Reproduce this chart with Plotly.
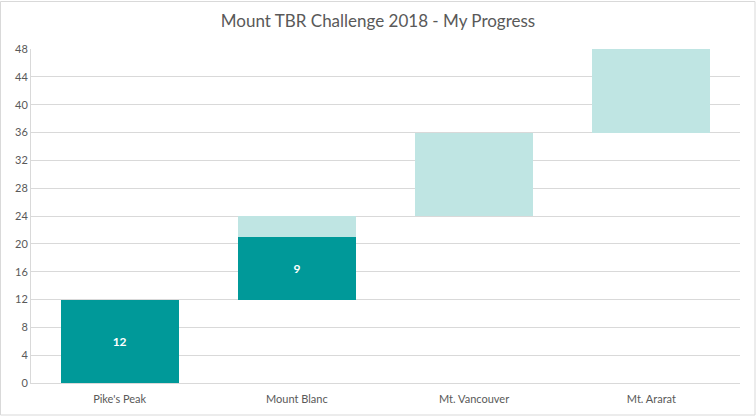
import plotly.graph_objects as go

# mountains and their page counts
mountains = ["Pike's Peak", "Mount Blanc", "Mt. Vancouver", "Mt. Ararat"]
base = [0, 12, 24, 36]
read = [12, 9, 0, 0]
remaining = [0, 3, 12, 12]
y_ticks = [0, 4, 8, 12, 16, 20, 24, 28, 32, 36, 40, 44, 48]

fig = go.Figure()

fig.add_trace(go.Bar(
    x=mountains, y=base,
    marker=dict(color='rgba(0,0,0,0)', line=dict(width=0)),
    hoverinfo='skip', showlegend=False
))

fig.add_trace(go.Bar(
    x=mountains, y=read,
    marker=dict(color='#009999', line=dict(width=0)),
    text=[str(v) if v else '' for v in read],
    textposition='inside', insidetextanchor='middle',
    textfont=dict(family='Lato', size=12, color='white'),
    texttemplate='<b>%{text}</b>',
    showlegend=False
))

fig.add_trace(go.Bar(
    x=mountains, y=remaining,
    marker=dict(color='#BFE5E3', line=dict(width=0)),
    showlegend=False
))

fig.update_layout(
    barmode='stack',
    bargap=0.334,
    width=756, height=416,
    margin=dict(l=31, r=16, t=49, b=33),
    title=dict(text='Mount TBR Challenge 2018 - My Progress', x=0.5, xanchor='center',
               y=0.95, yanchor='middle',
               font=dict(family='Lato', size=17, color='#595959')),
    plot_bgcolor='white',
    paper_bgcolor='white',
    font=dict(family='Lato', size=11, color='#595959'),
    xaxis=dict(showgrid=False, showline=True, linecolor='#D9D9D9', linewidth=1,
               ticks='outside', ticklen=6, tickcolor='rgba(0,0,0,0)',
               tickfont=dict(size=11, color='#595959')),
    yaxis=dict(range=[0, 48], tickvals=y_ticks, showgrid=True, gridcolor='#D9D9D9',
               zeroline=False, showline=True, linecolor='#D9D9D9',
               ticks='', tickfont=dict(size=11, color='#595959')),
    shapes=[dict(type='rect', xref='paper', yref='paper',
                 x0=-30.5/709, x1=1+15/709, y0=-32/334, y1=1+47.5/334,
                 line=dict(color='#D9D9D9', width=1))]
)

fig.write_html("out.html", config={'displayModeBar': False},
               post_script="document.body.style.margin='0';")
